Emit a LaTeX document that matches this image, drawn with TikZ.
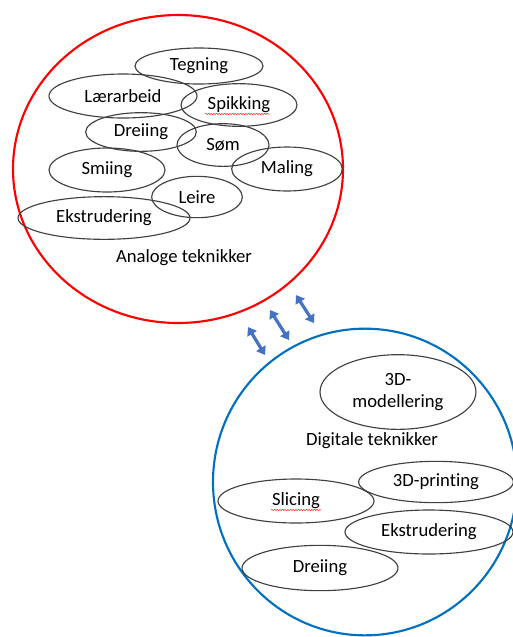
\documentclass[tikz,border=0pt]{standalone}
\usepackage{fontspec}
\setmainfont{Carlito}[Ligatures=CommonOff]
\usetikzlibrary{shapes.geometric,arrows.meta,decorations.pathmorphing}
\definecolor{kantrod}{HTML}{FF0000}
\definecolor{kantbla}{HTML}{0070C0}
\definecolor{pilbla}{HTML}{4472C4}
\tikzset{
  tek/.style={draw=black!75, line width=0.85pt, ellipse, inner sep=0pt},
  stor/.style={ellipse, line width=1.6pt, inner sep=0pt},
  pil/.style={pilbla, line width=2.4pt, {Triangle[width=8pt,length=6pt]}-{Triangle[width=8pt,length=6pt]}},
  stave/.style={kantrod!80, line width=0.4pt, decorate, decoration={snake, amplitude=0.5pt, segment length=2pt}}
}

\begin{document}
\begin{tikzpicture}[x=0.75pt, y=-0.75pt, font=\fontsize{14}{16.5}\selectfont]
  \useasboundingbox (0,0) rectangle (512,637);

  % analoge teknikker
  \node[stor, draw=kantrod, minimum width=247.5pt, minimum height=231pt] (analog) at (178,169) {};
  \node[tek, minimum width=96pt,  minimum height=27pt] (tegning) at (199,66) {Tegning};
  \node[tek, minimum width=111pt, minimum height=33pt] (laerarbeid) at (123,96) {Lærarbeid};
  \node[tek, minimum width=87pt,  minimum height=32pt] (spikking) at (239,105) {Spikking};
  \node[tek, minimum width=83pt,  minimum height=29pt] (dreiingA) at (141,132) {Dreiing};
  \node[tek, minimum width=69pt,  minimum height=32pt] (som) at (223,145) {Søm};
  \node[tek, minimum width=87pt,  minimum height=33pt] (smiing) at (107,170) {Smiing};
  \node[tek, minimum width=83pt,  minimum height=33pt] (maling) at (287,169) {Maling};
  \node[tek, minimum width=68pt,  minimum height=31pt] (leire) at (197,197) {Leire};
  \node[tek, minimum width=129pt, minimum height=32pt] (ekstruderingA) at (104,218) {Ekstrudering};
  \node (analogtekst) at (184,258) {Analoge teknikker};
  \draw[stave] (205,114) -- (269,114);

  % digitale teknikker
  \node[stor, draw=kantbla, minimum width=228pt, minimum height=230pt] (digital) at (365,482) {};
  \node[tek, minimum width=117pt, minimum height=56pt, align=center] (modellering) at (398,392) {3D-\\modellering};
  \node (digitaltekst) at (372,441) {Digitale teknikker};
  \node[tek, minimum width=116pt, minimum height=31pt] (printing) at (436,482) {3D-printing};
  \node[tek, minimum width=117pt, minimum height=33pt] (slicing) at (296,501) {Slicing};
  \node[tek, minimum width=126pt, minimum height=33pt] (ekstruderingD) at (429,532) {Ekstrudering};
  \node[tek, minimum width=117pt, minimum height=34pt] (dreiingD) at (320,568) {Dreiing};
  \draw[stave] (271,510) -- (321,510);

  % piler mellom sirklene
  \coordinate (p1a) at (248,327); \coordinate (p1b) at (265,355);
  \coordinate (p2a) at (270,310); \coordinate (p2b) at (289,340);
  \coordinate (p3a) at (296,295); \coordinate (p3b) at (314,323);
  \draw[pil] (p1a) -- (p1b);
  \draw[pil] (p2a) -- (p2b);
  \draw[pil] (p3a) -- (p3b);
\end{tikzpicture}
\end{document}
